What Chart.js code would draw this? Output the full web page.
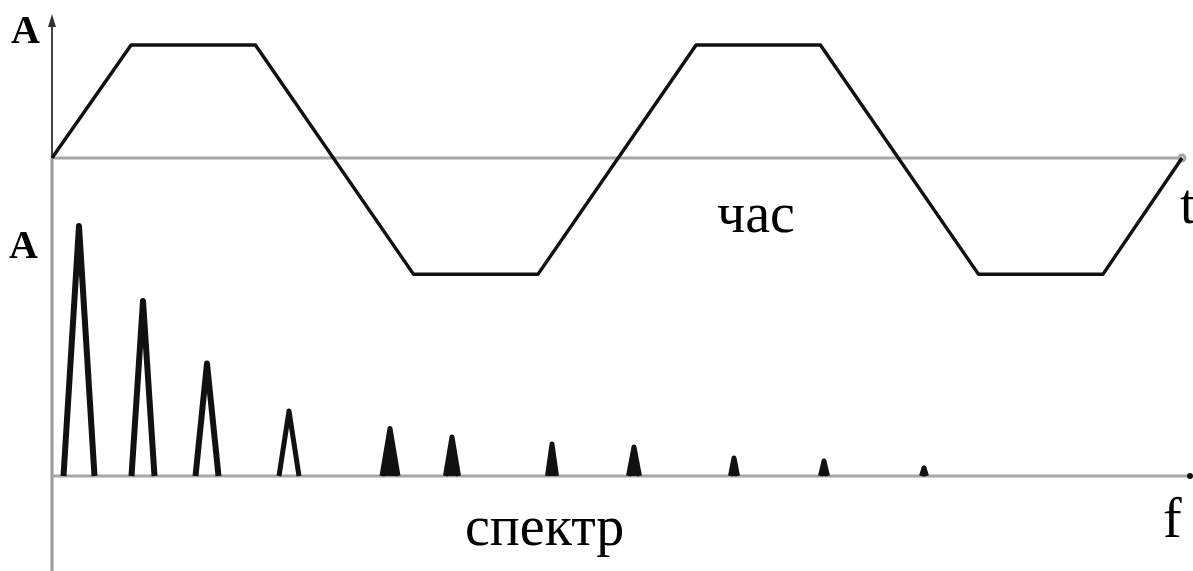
<!DOCTYPE html>
<html>
<head>
<meta charset="utf-8">
<script src="https://cdn.jsdelivr.net/npm/chart.js@4/dist/chart.umd.min.js"></script>
<style>
	html, body { margin: 0; padding: 0; background: #fff; }
	#wrap { width: 1193px; height: 571px; }
</style>
</head>
<body>
<div id="wrap"><canvas id="canvasSpectrum" width="1193" height="571"></canvas></div>
<script>

// trapezoid signal: breakpoints (time) and level at each one
var waveTime  = [0, 1.4, 3.6, 6.4, 8.6, 11.4, 13.6, 16.4, 18.6, 20];
var waveLevel = [0, 1, 1, -1.03, -1.03, 1, 1, -1.03, -1.03, 0];

// its spectrum: harmonic frequency, relative amplitude, width of each line at the base
var harmonicFreq   = [2.7, 9.1, 15.5, 23.7, 33.8, 40.0, 50.0, 58.2, 68.2, 77.2, 87.2];
var harmonicAmp    = [1.0, 0.70, 0.45, 0.26, 0.19, 0.156, 0.128, 0.116, 0.072, 0.06, 0.032];
var harmonicSpread = [1.55, 1.15, 1.15, 1.0, 0.8, 0.65, 0.45, 0.55, 0.35, 0.35, 0.25];

function init_chart_spectrum(){

	if( typeof (Chart) === 'undefined'){ return; }

	var wavePoints = waveTime.map(function(t, i){ return { x: t, y: waveLevel[i] }; });

	var datasets = [{
		data: wavePoints,
		xAxisID: 'x',
		yAxisID: 'y',
		borderColor: '#111',
		borderWidth: 3.5,
		borderJoinStyle: 'round',
		pointRadius: 0,
		tension: 0
	}];

	harmonicFreq.forEach(function(f, i){
		datasets.push({
			data: [
				{ x: f - harmonicSpread[i], y: 0 },
				{ x: f, y: harmonicAmp[i] },
				{ x: f + harmonicSpread[i], y: 0 }
			],
			xAxisID: 'xf',
			yAxisID: 'yf',
			borderColor: '#111',
			backgroundColor: '#111',
			fill: i > 3,
			borderWidth: i < 3 ? 6 : 5,
			borderJoinStyle: 'round',
			pointRadius: 0,
			tension: 0
		});
	});

	// axes, arrow and captions
	var axesPlugin = {
		id: 'axes',
		beforeDatasetsDraw: function(chart){
			var ctx = chart.ctx;
			var sx = chart.scales.x, sy = chart.scales.y;
			var fx = chart.scales.xf, fy = chart.scales.yf;
			var x0 = sx.getPixelForValue(0);
			var t0 = sy.getPixelForValue(0);
			var f0 = fy.getPixelForValue(0);
			ctx.save();

			// vertical axis
			ctx.strokeStyle = '#444';
			ctx.lineWidth = 2;
			ctx.beginPath(); ctx.moveTo(x0, 18); ctx.lineTo(x0, t0); ctx.stroke();
			ctx.strokeStyle = '#999';
			ctx.lineWidth = 3;
			ctx.beginPath(); ctx.moveTo(x0, t0); ctx.lineTo(x0, chart.height); ctx.stroke();
			ctx.fillStyle = '#333';
			ctx.beginPath();
			ctx.moveTo(x0, 14); ctx.lineTo(x0 - 4, 27); ctx.lineTo(x0 + 4, 27); ctx.closePath();
			ctx.fill();

			// time axis
			var tEnd = sx.getPixelForValue(20);
			ctx.strokeStyle = '#a6a6a6';
			ctx.lineWidth = 3;
			ctx.beginPath(); ctx.moveTo(x0, t0); ctx.lineTo(tEnd, t0); ctx.stroke();
			ctx.beginPath(); ctx.arc(tEnd, t0, 3, 0, Math.PI * 2); ctx.stroke();

			// frequency axis
			ctx.strokeStyle = '#a6a6a6';
			ctx.beginPath(); ctx.moveTo(fx.getPixelForValue(0), f0); ctx.lineTo(chart.width - 3, f0); ctx.stroke();
			ctx.fillStyle = '#111';
			ctx.beginPath(); ctx.arc(chart.width - 3, f0, 3, 0, Math.PI * 2); ctx.fill();

			// captions
			ctx.fillStyle = '#000';
			ctx.textBaseline = 'alphabetic';
			ctx.font = 'bold 40px "Liberation Serif"';
			ctx.fillText('A', 11, 43);
			ctx.fillText('A', 9, 258);
			ctx.font = '56px "Liberation Serif"';
			ctx.fillText('час', 717, 232);
			ctx.fillText('t', 1180, 223);
			ctx.fillText('спектр', 465, 545);
			ctx.fillText('f', 1163, 537);

			ctx.restore();
		}
	};

	var chart_settings = {
		type: 'line',
		data: { datasets: datasets },
		options: {
			responsive: false,
			animation: false,
			layout: { padding: 0 },
			plugins: { legend: false, tooltip: { enabled: false } },
			scales: {
				x:  { type: 'linear', display: false, min: -0.9204, max: 20.195 },
				y:  { type: 'linear', display: false, min: -3.655, max: 1.398 },
				xf: { type: 'linear', display: false, min: -5.2, max: 114.1 },
				yf: { type: 'linear', display: false, min: -0.38, max: 1.904 }
			}
		},
		plugins: [axesPlugin]
	};

	new Chart(document.getElementById('canvasSpectrum'), chart_settings);
}

init_chart_spectrum();
</script>
</body>
</html>
